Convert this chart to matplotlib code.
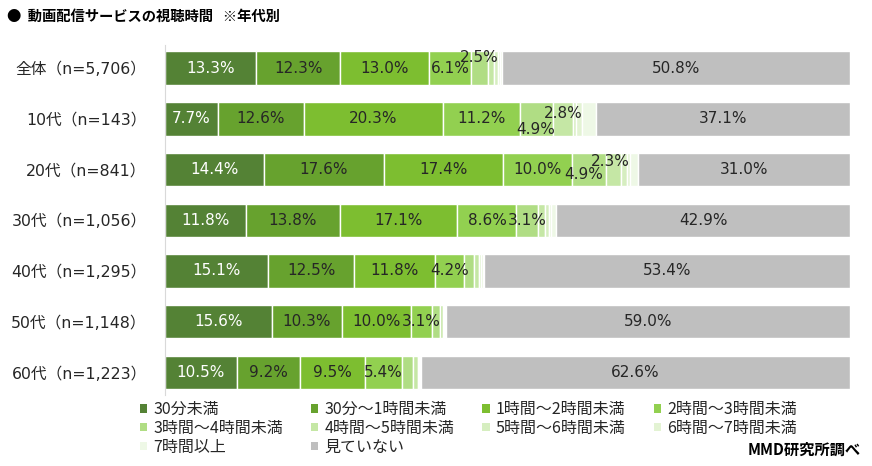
import matplotlib.pyplot as plt
from matplotlib.patches import Patch
import numpy as np

plt.rcParams['font.family'] = ['Noto Sans CJK JP', 'DejaVu Sans']

# row labels, top to bottom
groups = ['全体（n=5,706）', '10代（n=143）', '20代（n=841）', '30代（n=1,056）',
          '40代（n=1,295）', '50代（n=1,148）', '60代（n=1,223）']

categories = ['30分未満', '30分～1時間未満', '1時間～2時間未満', '2時間～3時間未満',
              '3時間～4時間未満', '4時間～5時間未満', '5時間～6時間未満', '6時間～7時間未満',
              '7時間以上', '見ていない']

# shares (%) per category, one value per row
under30 = [13.3, 7.7, 14.4, 11.8, 15.1, 15.6, 10.5]
m30_1h = [12.3, 12.6, 17.6, 13.8, 12.5, 10.3, 9.2]
h1_2 = [13.0, 20.3, 17.4, 17.1, 11.8, 10.0, 9.5]
h2_3 = [6.1, 11.2, 10.0, 8.6, 4.2, 3.1, 5.4]
h3_4 = [2.5, 4.9, 4.9, 3.1, 1.5, 1.1, 1.6]
h4_5 = [0.9, 2.8, 2.3, 1.1, 0.8, 0.5, 0.7]
h5_6 = [0.5, 0.5, 0.8, 0.6, 0.3, 0.2, 0.2]
h6_7 = [0.3, 0.8, 0.5, 0.3, 0.2, 0.1, 0.1]
h7_plus = [0.3, 2.1, 1.1, 0.7, 0.2, 0.1, 0.2]
not_watch = [50.8, 37.1, 31.0, 42.9, 53.4, 59.0, 62.6]

series = [under30, m30_1h, h1_2, h2_3, h3_4, h4_5, h5_6, h6_7, h7_plus, not_watch]
colors = ['#548235', '#67A22E', '#7DBE30', '#92D050', '#B0DD84', '#C5E7A5',
          '#D6EEC0', '#E3F3D3', '#EEF8E6', '#BFBFBF']

# which values get a label (row, series) and small nudges for the crowded ones
labeled = {0: [0, 1, 2, 3, 4, 9], 1: [0, 1, 2, 3, 4, 5, 9], 2: [0, 1, 2, 3, 4, 5, 9],
           3: [0, 1, 2, 3, 4, 9], 4: [0, 1, 2, 3, 9], 5: [0, 1, 2, 3, 9], 6: [0, 1, 2, 3, 9]}
nudge = {(0, 4): (0.0, -0.22), (1, 4): (-0.2, 0.2), (1, 5): (0.0, -0.1),
         (2, 4): (-0.7, 0.1), (2, 5): (-0.5, -0.16)}

fig = plt.figure(figsize=(8.72, 4.66), dpi=100)
ax = fig.add_axes([0.189, 0.152, 0.786, 0.751])

y = np.arange(len(groups))
left = np.zeros(len(groups))
for si, vals in enumerate(series):
    vals = np.array(vals)
    ax.barh(y, vals, left=left, height=0.66, color=colors[si], edgecolor='white', linewidth=1)
    for ri in range(len(groups)):
        if si in labeled[ri]:
            dx, dy = nudge.get((ri, si), (0, 0))
            tc = 'white' if si == 0 else '#262626'
            ax.text(left[ri] + vals[ri] / 2 + dx, y[ri] + dy, f'{vals[ri]:.1f}%',
                    ha='center', va='center', fontsize=11, color=tc, family='DejaVu Sans')
    left += vals

ax.set_xlim(0, left.max())
ax.set_ylim(6.45, -0.454)
ax.set_yticks(y)
ax.set_yticklabels(groups, fontsize=11.3, color='#262626',
                   family=['DejaVu Sans', 'Noto Sans CJK JP'])
ax.tick_params(axis='y', length=0, pad=13)
ax.set_xticks([])
for s in ['top', 'right', 'bottom']:
    ax.spines[s].set_visible(False)
ax.spines['left'].set_color('#D9D9D9')

fig.text(0.008, 0.963, '●  動画配信サービスの視聴時間   ※年代別', fontsize=10.3,
         fontweight='bold', va='center', ha='left')

handles = [Patch(facecolor=c, edgecolor='none') for c in colors]
order = [0, 4, 8, 1, 5, 9, 2, 6, 3, 7]
fig.legend([handles[i] for i in order], [categories[i] for i in order], ncol=4,
           loc='upper left', bbox_to_anchor=(0.151, 0.156), frameon=False, fontsize=11.5,
           handlelength=0.45, handleheight=0.45, handletextpad=0.4, columnspacing=1.75,
           labelspacing=0.1, borderpad=0, labelcolor='#262626')

fig.text(0.987, 0.035, 'MMD研究所調べ', fontsize=11, fontweight='bold', ha='right', va='center')

fig.savefig('out.png', dpi=100)
